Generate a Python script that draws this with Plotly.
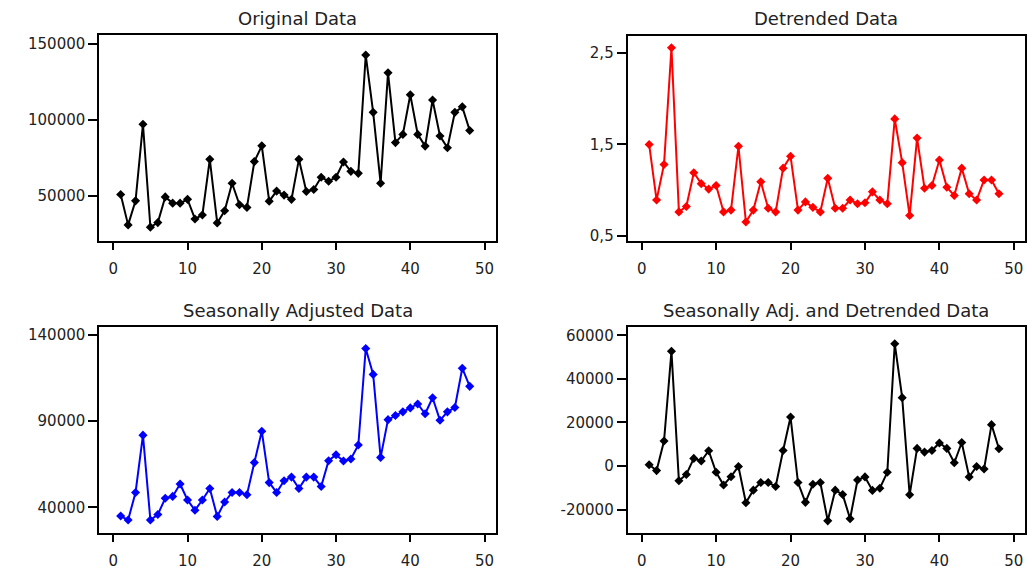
import plotly.graph_objects as go

# observation index
periods = list(range(1, 49))

# values
original = [51000, 31000, 46800, 97200, 29500, 32500, 49400, 45300, 45300, 47800,
            34900, 37500, 74100, 32300, 40300, 58400, 44200, 42500, 72600, 83000,
            46600, 53200, 50600, 47800, 74100, 53000, 54300, 62300, 59700, 62300,
            72400, 66200, 64900, 142700, 105000, 58400, 131000, 85100, 90500, 116600,
            90500, 82800, 113100, 89400, 81700, 105000, 108600, 93100]
detrended = [1.50, 0.89, 1.28, 2.56, 0.76, 0.82, 1.19, 1.07, 1.01, 1.05,
             0.76, 0.78, 1.48, 0.65, 0.78, 1.09, 0.80, 0.76, 1.24, 1.37,
             0.78, 0.87, 0.81, 0.76, 1.13, 0.80, 0.80, 0.89, 0.85, 0.86,
             0.98, 0.89, 0.85, 1.78, 1.30, 0.72, 1.57, 1.02, 1.05, 1.33,
             1.03, 0.94, 1.24, 0.96, 0.89, 1.11, 1.11, 0.96]
seas_adj = [34900, 32600, 48600, 81800, 32600, 35800, 45200, 46300, 53500, 44200,
            38300, 44200, 50900, 34700, 43100, 48600, 48600, 47300, 65900, 84100,
            54300, 48600, 55400, 57500, 50900, 57500, 57500, 52000, 67000, 70400,
            66800, 68000, 76100, 132000, 117000, 68900, 90800, 93200, 95300, 97600,
            99900, 94200, 103500, 90400, 95300, 97800, 120600, 110100]
seas_adj_detr = [600, -2100, 11500, 52700, -6800, -3900, 3500, 2300, 7000, -2900,
                 -8700, -4900, -200, -16900, -11100, -7600, -7600, -9400, 7100, 22500,
                 -7600, -16700, -8400, -7600, -25200, -11100, -13100, -24200, -6400, -5000,
                 -11200, -10200, -2900, 56200, 31400, -13200, 8100, 6400, 7100, 10600,
                 8100, 1500, 10800, -5000, -200, -1400, 19000, 7900]

titles = ["Original Data", "Detrended Data",
          "Seasonally Adjusted Data", "Seasonally Adj. and Detrended Data"]

x_ticks = [0, 10, 20, 30, 40, 50]
y1_ticks = [50000, 100000, 150000]
y2_ticks = [0.5, 1.5, 2.5]
y2_labels = ["0,5", "1,5", "2,5"]
y3_ticks = [40000, 90000, 140000]
y4_ticks = [-20000, 0, 20000, 40000, 60000]

W, H = 1032, 577
font = "DejaVu Sans, Arial, sans-serif"

panels = [
    # series, colour, x px range, y px range (top, bottom), y range, ticks, labels
    (original, "black", (99.3, 495.7), (34.7, 242.3), [20270, 155600], y1_ticks, [str(v) for v in y1_ticks]),
    (detrended, "red", (627.7, 1025), (35, 242.3), [0.439, 2.692], y2_ticks, y2_labels),
    (seas_adj, "blue", (99.3, 495.7), (329, 536.7), [25060, 144400], y3_ticks, [str(v) for v in y3_ticks]),
    (seas_adj_detr, "black", (627.7, 1025), (329, 536.7), [-30800, 63800], y4_ticks, [str(v) for v in y4_ticks]),
]

fig = go.Figure()

for i, (vals, col, (x0, x1), (t, b), yr, yt, yl) in enumerate(panels):
    n = "" if i == 0 else str(i + 1)
    fig.add_trace(go.Scatter(
        x=periods, y=vals, mode="lines+markers",
        line=dict(color=col, width=2),
        marker=dict(symbol="diamond", size=7, color=col),
        xaxis="x" + n, yaxis="y" + n, showlegend=False,
    ))
    axis_common = dict(showline=True, mirror=True, linecolor="black", linewidth=2,
                       showgrid=False, zeroline=False, ticks="outside",
                       tickcolor="black", tickwidth=2,
                       tickfont=dict(family=font, size=15, color="#222"))
    fig.layout["xaxis" + n] = dict(
        domain=[x0 / W, x1 / W], range=[-1.88, 51.5], anchor="y" + n,
        tickvals=x_ticks, ticklen=7, ticklabelstandoff=6, **axis_common)
    fig.layout["yaxis" + n] = dict(
        domain=[1 - b / H, 1 - t / H], range=yr, anchor="x" + n,
        tickvals=yt, ticktext=yl, ticklen=9, **axis_common)
    fig.add_annotation(
        text=titles[i], x=(x0 + x1) / 2 / W, y=1 - (t - 4.5) / H,
        xref="paper", yref="paper", xanchor="center", yanchor="bottom",
        showarrow=False, font=dict(family=font, size=18, color="#222"))

fig.update_layout(
    width=W, height=H,
    margin=dict(l=0, r=0, t=0, b=0),
    paper_bgcolor="white", plot_bgcolor="white",
)

# drop the default page margin so the figure sits at the window origin
fig.write_html("out.html", config={"displayModeBar": False},
               post_script="document.body.style.margin='0px';document.body.style.overflow='hidden';")
